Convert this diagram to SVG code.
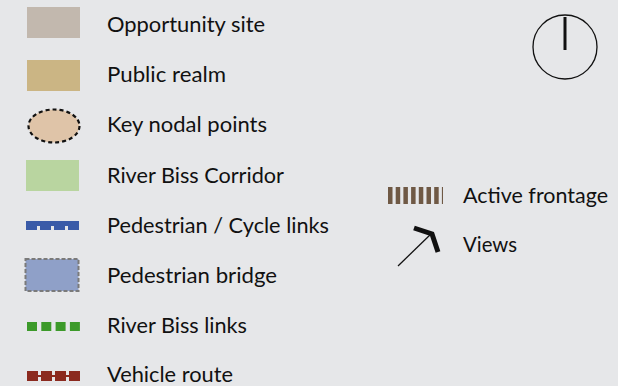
<svg xmlns="http://www.w3.org/2000/svg" width="628" height="386" viewBox="0 0 628 386">
<style>
text{font-family:Lato,"Open Sans","Liberation Sans",sans-serif;font-size:22px;fill:#111}
</style>
<rect x="0" y="0" width="628" height="386" fill="#ffffff"/>
<rect x="0" y="0" width="618" height="386" fill="#e6e7e9"/>
<g id="opportunity-site">
<rect x="27" y="7" width="53" height="31" fill="#c2b8ae"/>
<text x="107" y="32" textLength="158" lengthAdjust="spacingAndGlyphs">Opportunity site</text>
</g>
<g id="public-realm">
<rect x="27" y="60" width="53" height="31" fill="#cbb584"/>
<text x="107" y="82" textLength="119" lengthAdjust="spacingAndGlyphs">Public realm</text>
</g>
<g id="key-nodal-points">
<ellipse cx="54" cy="126" rx="25.5" ry="16.5" fill="#dfc4a8" stroke="#111" stroke-width="2.2" stroke-dasharray="4,3"/>
<text x="107" y="132" textLength="160" lengthAdjust="spacingAndGlyphs">Key nodal points</text>
</g>
<g id="river-biss-corridor">
<rect x="26" y="160" width="53" height="31" fill="#b9d5a0"/>
<text x="107" y="183" textLength="177" lengthAdjust="spacingAndGlyphs">River Biss Corridor</text>
</g>
<g id="pedestrian-cycle-links">
<rect x="26" y="221" width="53" height="5" fill="#3a5ba8"/>
<line x1="26" y1="225.5" x2="79" y2="225.5" stroke="#3a5ba8" stroke-width="9" stroke-dasharray="11,3"/>
<text x="107" y="233" textLength="222" lengthAdjust="spacingAndGlyphs">Pedestrian / Cycle links</text>
</g>
<g id="pedestrian-bridge">
<rect x="25.5" y="259" width="53" height="32" fill="#8fa0c8" stroke="#7a7a7a" stroke-width="2" stroke-dasharray="4,2"/>
<text x="107" y="283" textLength="170" lengthAdjust="spacingAndGlyphs">Pedestrian bridge</text>
</g>
<g id="river-biss-links">
<line x1="27" y1="326.5" x2="80" y2="326.5" stroke="#3c9a2a" stroke-width="9" stroke-dasharray="10,4.3"/>
<text x="107" y="333" textLength="140" lengthAdjust="spacingAndGlyphs">River Biss links</text>
</g>
<g id="vehicle-route">
<line x1="27" y1="376" x2="80" y2="376" stroke="#8b2a1f" stroke-width="2"/>
<line x1="27" y1="376" x2="80" y2="376" stroke="#8b2a1f" stroke-width="10" stroke-dasharray="11,3"/>
<text x="107" y="382" textLength="126" lengthAdjust="spacingAndGlyphs">Vehicle route</text>
</g>
<g id="active-frontage">
<line x1="388" y1="195.5" x2="443" y2="195.5" stroke="#6f5945" stroke-width="17" stroke-dasharray="4.5,3.2"/>
<text x="463" y="203" textLength="145" lengthAdjust="spacingAndGlyphs">Active frontage</text>
</g>
<g id="views">
<line x1="398" y1="266" x2="432" y2="233" stroke="#111" stroke-width="1.3"/>
<polyline points="414,228 432,234 438,252" fill="none" stroke="#111" stroke-width="5" stroke-linejoin="miter"/>
<text x="463" y="252" textLength="54" lengthAdjust="spacingAndGlyphs">Views</text>
</g>
<g id="north-arrow">
<circle cx="565" cy="47" r="32" fill="none" stroke="#111" stroke-width="1.3"/>
<line x1="565" y1="17" x2="565" y2="50" stroke="#111" stroke-width="3"/>
</g>
</svg>
